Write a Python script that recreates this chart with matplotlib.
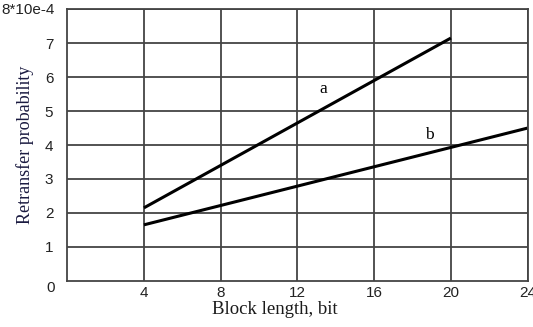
import matplotlib
matplotlib.use("Agg")
import matplotlib.pyplot as plt

# curve data (probability in units of 10e-4)
block_len_a = [4, 20]
prob_a = [2.15, 7.15]
block_len_b = [4, 24]
prob_b = [1.65, 4.5]

x_ticks = [4, 8, 12, 16, 20, 24]
y_ticks = [1, 2, 3, 4, 5, 6, 7]


def main():
    fig = plt.figure(figsize=(5.33, 3.27), dpi=100)
    ax = fig.add_axes([0.126, 0.141, 0.864, 0.831])

    ax.plot(block_len_a, prob_a, color="black", lw=2.2, solid_capstyle="butt")
    ax.plot(block_len_b, prob_b, color="black", lw=2.2, solid_capstyle="butt")

    ax.set_xlim(0, 24)
    ax.set_ylim(0, 8)
    ax.set_xticks(x_ticks)
    ax.set_yticks(y_ticks + [8])
    ax.set_yticklabels([str(v) for v in y_ticks] + [""])
    for lbl in ax.get_xticklabels() + ax.get_yticklabels():
        lbl.set_family("Liberation Sans")
    ax.grid(True, color="#444444", lw=1.3)
    ax.tick_params(length=0, labelsize=11, labelcolor="#222222")
    ax.tick_params(axis="x", pad=4)
    ax.tick_params(axis="y", pad=10)
    for s in ax.spines.values():
        s.set_color("#444444")
        s.set_linewidth(1.3)

    # origin label and the scale note at the top of the y axis
    ax.text(-0.63, -0.2, "0", fontsize=11, color="#222222", ha="right", va="center",
            family="Liberation Sans", clip_on=False)
    ax.text(-0.63, 7.98, "8*10e-4", fontsize=11, color="#222222", ha="right", va="center",
            family="Liberation Sans", clip_on=False)

    ax.text(13.35, 5.65, "a", fontsize=12.5, family="Liberation Serif", ha="center", va="center")
    ax.text(18.9, 4.3, "b", fontsize=12.5, family="Liberation Serif", ha="center", va="center")

    fig.text(275 / 533, 1 - 310 / 327, "Block length, bit", family="Liberation Serif",
             fontsize=13.5, color="#1a1a1a", ha="center", va="center")
    ax.set_ylabel("Retransfer probability", family="Liberation Serif", fontsize=13,
                  color="#1a1a40", labelpad=8)

    fig.savefig("out.png", dpi=100)


if __name__ == '__main__':
    main()
